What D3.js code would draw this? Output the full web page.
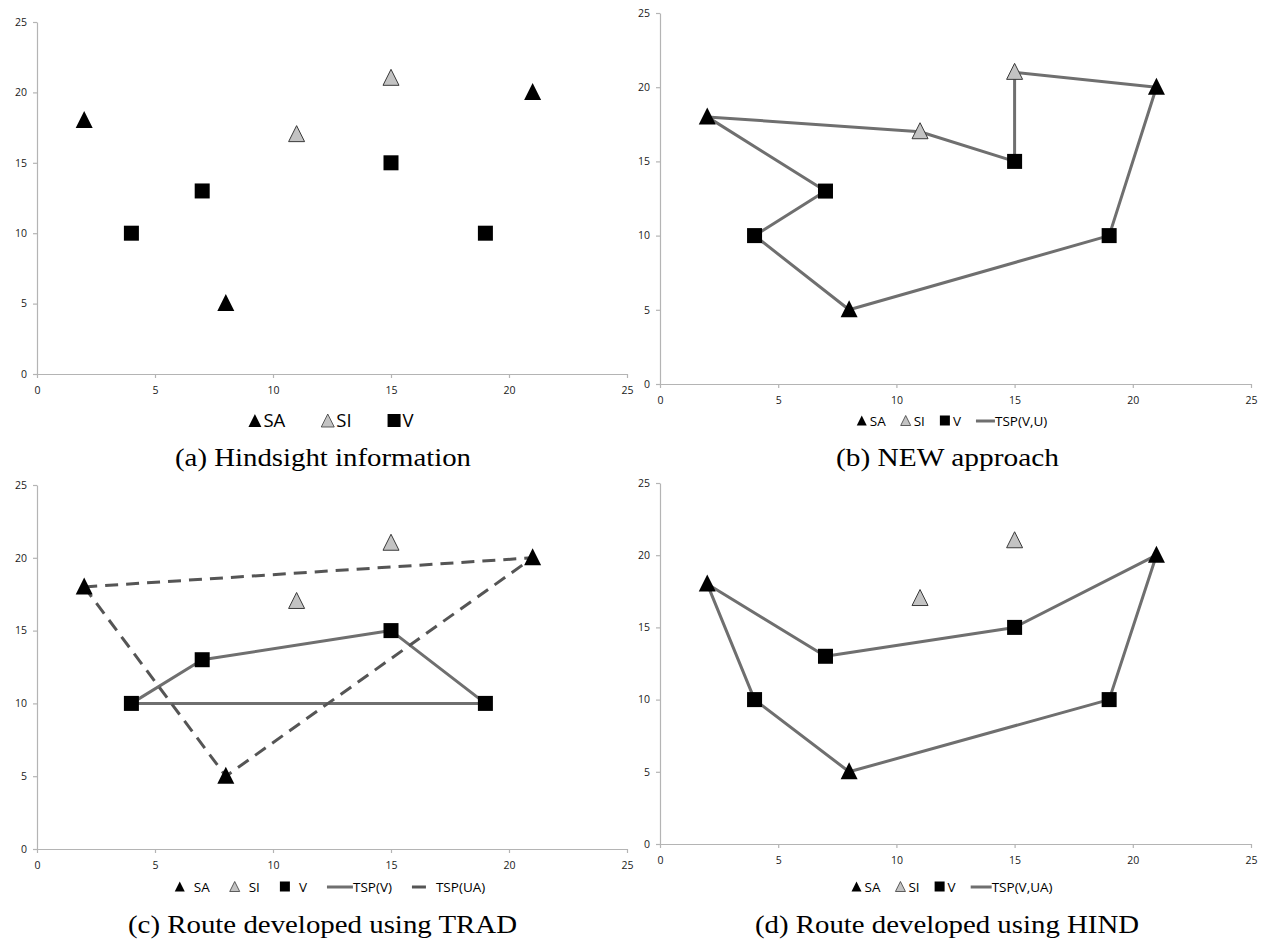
<!DOCTYPE html>
<html>
<head>
<meta charset="utf-8">
<script src="https://cdn.jsdelivr.net/npm/d3@7"></script>
<style>
  html, body { margin: 0; padding: 0; background: #fff; }
  svg { display: block; }
</style>
</head>
<body>
<svg id="chart" width="1264" height="942"></svg>
<script>
// Customer locations
const tickValues = [0, 5, 10, 15, 20, 25];
const saX = [2, 8, 21];
const saY = [18, 5, 20];
const siX = [11, 15];
const siY = [17, 21];
const vX = [4, 7, 15, 19];
const vY = [10, 13, 15, 10];

// Routes (closed tours, first point repeated at the end)
const newRouteX = [2, 11, 15, 15, 21, 19, 8, 4, 7, 2];
const newRouteY = [18, 17, 15, 21, 20, 10, 5, 10, 13, 18];
const tradVX = [4, 7, 15, 19, 4];
const tradVY = [10, 13, 15, 10, 10];
const tradUAX = [2, 21, 8, 2];
const tradUAY = [18, 20, 5, 18];
const hindX = [2, 7, 15, 21, 19, 8, 4, 2];
const hindY = [18, 13, 15, 20, 10, 5, 10, 18];

const captions = [
  "(a) Hindsight information",
  "(b) NEW approach",
  "(c) Route developed using TRAD",
  "(d) Route developed using HIND"
];

const zip = (xs, ys) => xs.map((x, i) => [x, ys[i]]);

const svg = d3.select("#chart");
const LINE = "#6f6f6f";
const DASH = "#555555";
const SANS = "'Open Sans', Lato, sans-serif";

function triPath(w) {
  // upright triangle with bounding box w x w centred on origin
  const h = w;
  return `M0,${-h / 2}L${w / 2},${h / 2}L${-w / 2},${h / 2}Z`;
}

function drawPanel(p) {
  const g = svg.append("g");
  const x = d3.scaleLinear().domain([0, 25]).range([p.left, p.right]);
  const y = d3.scaleLinear().domain([0, 25]).range([p.bottom, p.top]);

  const xAxis = g.append("g")
    .attr("transform", `translate(0,${p.bottom})`)
    .call(d3.axisBottom(x).tickValues(tickValues).tickSize(4).tickSizeOuter(0).tickPadding(9));
  const yAxis = g.append("g")
    .attr("transform", `translate(${p.left},0)`)
    .call(d3.axisLeft(y).tickValues(tickValues).tickSize(4).tickSizeOuter(0).tickPadding(6));
  [xAxis, yAxis].forEach(a => {
    a.select(".domain").attr("stroke", "#b4b4b4").attr("stroke-width", 1.2);
    a.selectAll(".tick line").attr("stroke", "#b4b4b4").attr("stroke-width", 1.2);
    a.selectAll(".tick text").attr("fill", "#1a1a1a").style("font-family", SANS).style("font-size", "10.5px");
  });

  const line = d3.line().x(d => x(d[0])).y(d => y(d[1]));
  (p.routes || []).forEach(r => {
    g.append("path")
      .attr("d", line(zip(r.xs, r.ys)))
      .attr("fill", "none")
      .attr("stroke", r.dashed ? DASH : LINE)
      .attr("stroke-width", 3)
      .attr("stroke-dasharray", r.dashed ? "13,8" : null)
      .attr("stroke-linejoin", "round");
  });

  // V squares
  g.selectAll(".v").data(zip(vX, vY)).join("rect")
    .attr("x", d => x(d[0]) - 7.5).attr("y", d => y(d[1]) - 7.5)
    .attr("width", 15).attr("height", 15).attr("fill", "#000");
  // SI triangles
  g.selectAll(".si").data(zip(siX, siY)).join("path")
    .attr("d", triPath(16))
    .attr("transform", d => `translate(${x(d[0])},${y(d[1]) - 1})`)
    .attr("fill", "#c3c3c3").attr("stroke", "#3a3a3a").attr("stroke-width", 1);
  // SA triangles
  g.selectAll(".sa").data(zip(saX, saY)).join("path")
    .attr("d", triPath(17))
    .attr("transform", d => `translate(${x(d[0])},${y(d[1]) - 1})`)
    .attr("fill", "#000");

  // legend
  const leg = g.append("g");
  let cx = 0;
  const fs = p.legendFont;
  p.legend.forEach((item, i) => {
    if (i > 0) cx += p.itemGap;
    const s = p.symSize;
    if (item.kind === "sa" || item.kind === "si") {
      leg.append("path").attr("d", triPath(s))
        .attr("transform", `translate(${cx + s / 2},${-0.5})`)
        .attr("fill", item.kind === "sa" ? "#000" : "#c3c3c3")
        .attr("stroke", item.kind === "si" ? "#3a3a3a" : "none")
        .attr("stroke-width", 0.8);
      cx += s + p.symGap;
    } else if (item.kind === "v") {
      leg.append("rect").attr("x", cx).attr("y", -s / 2 - 0.5).attr("width", s).attr("height", s).attr("fill", "#000");
      cx += s + p.symGap;
    } else if (item.kind === "line") {
      leg.append("line").attr("x1", cx).attr("x2", cx + p.lineLen).attr("y1", 0).attr("y2", 0)
        .attr("stroke", LINE).attr("stroke-width", 3);
      cx += p.lineLen;
    } else if (item.kind === "dash") {
      leg.append("line").attr("x1", cx).attr("x2", cx + p.dashLen).attr("y1", 0).attr("y2", 0)
        .attr("stroke", DASH).attr("stroke-width", 3);
      cx += p.dashLen + p.dashGap;
    }
    const t = leg.append("text").attr("x", cx).attr("y", 0).attr("dy", "0.35em")
      .attr("fill", "#000").style("font-family", SANS).style("font-size", fs + "px").text(item.label);
    cx += t.node().getComputedTextLength();
  });
  leg.attr("transform", `translate(${p.legendCx - cx / 2},${p.legendY})`);

  // caption
  g.append("text").attr("x", p.capX0).attr("y", p.capY)
    .attr("textLength", p.capW).attr("lengthAdjust", "spacingAndGlyphs")
    .style("font-family", "'Liberation Serif', 'DejaVu Serif', serif")
    .style("font-size", "25px").attr("fill", "#000")
    .text(p.caption);
}

const base = [
  { kind: "sa", label: "SA" },
  { kind: "si", label: "SI" },
  { kind: "v", label: "V" }
];

drawPanel({
  left: 37, right: 627, top: 22, bottom: 374,
  routes: [],
  legend: base, legendFont: 18.5, symSize: 13, symGap: 2, itemGap: 36,
  legendCx: 331, legendY: 421,
  caption: captions[0], capX0: 175, capY: 466, capW: 296
});

drawPanel({
  left: 660, right: 1251, top: 13, bottom: 384,
  routes: [{ xs: newRouteX, ys: newRouteY }],
  legend: base.concat([{ kind: "line", label: "TSP(V,U)" }]),
  legendFont: 13.5, symSize: 10, symGap: 3, itemGap: 15, lineLen: 19,
  legendCx: 952, legendY: 421,
  caption: captions[1], capX0: 836, capY: 466, capW: 223
});

drawPanel({
  left: 37, right: 627, top: 485, bottom: 849,
  routes: [{ xs: tradVX, ys: tradVY }, { xs: tradUAX, ys: tradUAY, dashed: true }],
  legend: [
    { kind: "sa", label: "SA" }, { kind: "si", label: "SI" }, { kind: "v", label: "V" },
    { kind: "line", label: "TSP(V)" }, { kind: "dash", label: "TSP(UA)" }
  ],
  legendFont: 13.5, symSize: 10, symGap: 9, itemGap: 20, lineLen: 26, dashLen: 14, dashGap: 10,
  legendCx: 330, legendY: 887,
  caption: captions[2], capX0: 128, capY: 933, capW: 389
});

drawPanel({
  left: 660, right: 1251, top: 483, bottom: 844,
  routes: [{ xs: hindX, ys: hindY }],
  legend: base.concat([{ kind: "line", label: "TSP(V,UA)" }]),
  legendFont: 13.5, symSize: 10, symGap: 3, itemGap: 15, lineLen: 21,
  legendCx: 952, legendY: 887,
  caption: captions[3], capX0: 755, capY: 933, capW: 384
});
</script>
</body>
</html>
